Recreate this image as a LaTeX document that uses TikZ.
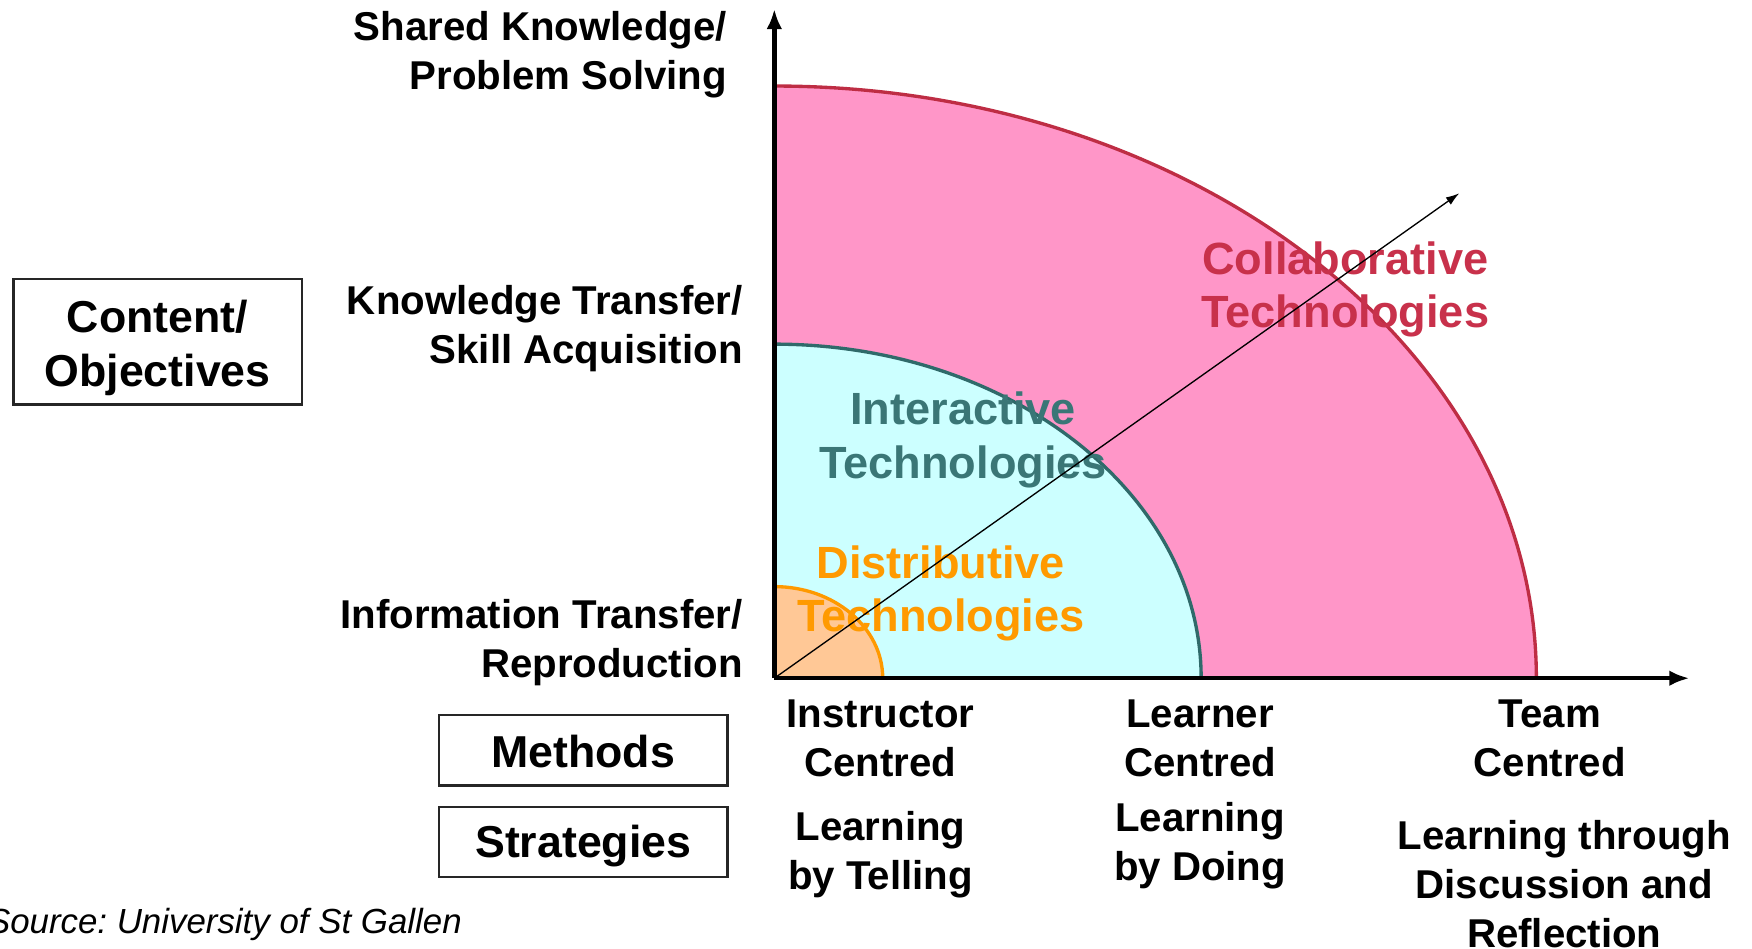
\documentclass[tikz,border=0pt]{standalone}
\usepackage{fontspec}
\setmainfont{Liberation Sans}
\usetikzlibrary{arrows.meta}
\definecolor{pinkfill}{HTML}{FF96C8}
\definecolor{pinkline}{HTML}{BE2D44}
\definecolor{collabtxt}{HTML}{C8314B}
\definecolor{cyanfill}{HTML}{CCFFFF}
\definecolor{tealline}{HTML}{2F6A6A}
\definecolor{tealtxt}{HTML}{3A7676}
\definecolor{orangefill}{HTML}{FFC896}
\definecolor{orangeline}{HTML}{FF9900}
\definecolor{orangetxt}{HTML}{FF9A00}
\frenchspacing
\begin{document}
\begin{tikzpicture}[x=0.5pt,y=0.5pt,
  lbl/.style={font=\bfseries\fontsize{18}{22}\selectfont, inner sep=0pt},
  tech/.style={font=\bfseries\fontsize{20.2}{24}\selectfont, inner sep=0pt, align=center},
  boxed/.style={draw=black!85, line width=1pt, minimum width=129pt, inner sep=0pt},
  boxtext/.style={font=\bfseries\fontsize{20}{24}\selectfont, align=center, inner sep=0pt},
  axisarrow/.style={line width=2pt, -{Latex[length=9pt,width=7pt]}},
  diagarrow/.style={line width=0.6pt, -{Latex[length=6pt,width=4pt]}},
  srcstyle/.style={font=\itshape\fontsize{15.6}{18}\selectfont, inner sep=0pt, anchor=west}]
\useasboundingbox (0,0) rectangle (1568,-849);
\coordinate (O) at (693,-607);
\coordinate (ytip) at (693,-8);
\coordinate (xtip) at (1512,-607);
\coordinate (diagtip) at (1306,-173);
% quarter ellipses
\fill[pinkfill] (693,-607) -- (1375,-607) arc (0:90:682 and 530) -- cycle;
\draw[pinkline, line width=1.5pt] (1375,-607) arc (0:90:682 and 530);
\fill[cyanfill] (693,-607) -- (1075,-607) arc (0:90:382 and 299) -- cycle;
\draw[tealline, line width=1.5pt] (1075,-607) arc (0:90:382 and 299);
\fill[orangefill] (693,-607) -- (790,-607) arc (0:90:97 and 82) -- cycle;
\draw[orangeline, line width=1.5pt] (790,-607) arc (0:90:97 and 82);
% technology labels
\node[tech, text=collabtxt] (collab) at (1204,-259) {Collaborative\\Technologies};
\node[tech, text=tealtxt] (interact) at (862,-394) {Interactive\\Technologies};
\node[tech, text=orangetxt] (distrib) at (842,-531) {Distributive\\Technologies};
% axes
\draw[axisarrow] (O) -- (ytip);
\draw[axisarrow] (O) -- (xtip);
\draw[diagarrow] (O) -- (diagtip);
% left labels
\node[lbl, anchor=east, align=right] (shared) at (651,-49) {Shared Knowledge/\\Problem Solving};
\node[lbl, anchor=east, align=right] (knowledge) at (665,-294) {Knowledge Transfer/\\Skill Acquisition};
\node[lbl, anchor=east, align=right] (info) at (665,-575) {Information Transfer/\\Reproduction};
% boxes
\node[boxed, minimum height=56pt] (content) at (141,-306) {};
\node[boxtext] (contenttxt) at ([yshift=-2.75pt]content.center) {Content/\\Objectives};
\node[boxed, minimum height=31.5pt] (methods) at (522,-671.5) {};
\node[boxtext] (methodstxt) at ([yshift=-0.5pt]methods.center) {Methods};
\node[boxed, minimum height=31.5pt] (strategies) at (522,-753.5) {};
\node[boxtext] (strategiestxt) at ([yshift=-2pt]strategies.center) {Strategies};
% bottom labels
\node[lbl, align=center] (instr) at (788,-661) {Instructor\\Centred};
\node[lbl, align=center] (learner) at (1074,-661) {Learner\\Centred};
\node[lbl, align=center] (team) at (1387,-661) {Team\\Centred};
\node[lbl, align=center] (telling) at (788,-765) {Learning\\by Telling};
\node[lbl, align=center] (doing) at (1074,-757) {Learning\\by Doing};
\node[lbl, align=center] (discussion) at (1400,-791) {Learning through\\Discussion and\\Reflection};
% source
\node[srcstyle] (source) at (-12,-827) {Source: University of St Gallen};
\end{tikzpicture}
\end{document}
